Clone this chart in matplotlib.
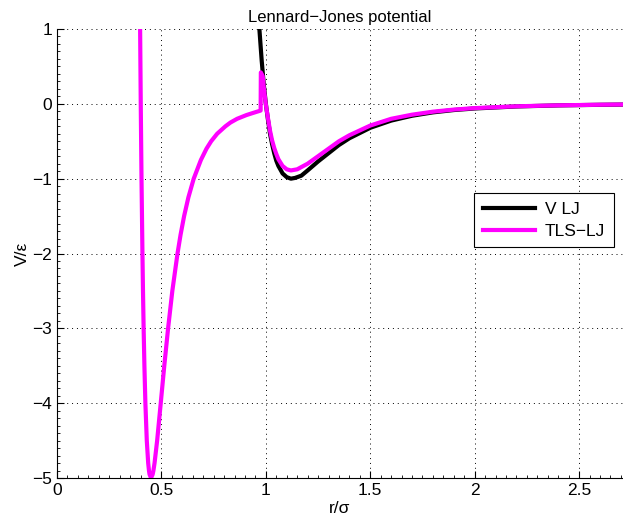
import matplotlib
matplotlib.use("Agg")
import matplotlib.pyplot as plt
from matplotlib.ticker import MultipleLocator

plt.rcParams['font.family'] = ['Liberation Sans', 'DejaVu Sans']

# V LJ (black)
lj_r = [0.969, 0.975, 0.98, 0.99, 1.00, 1.01, 1.02, 1.03, 1.04, 1.05, 1.06, 1.08,
        1.10, 1.12, 1.14, 1.17, 1.20, 1.25, 1.30, 1.35, 1.40, 1.50, 1.60, 1.70,
        1.80, 1.90, 2.00, 2.20, 2.40, 2.60, 2.71]
lj_v = [1.00, 0.77, 0.58, 0.26, 0.00, -0.21, -0.40, -0.54, -0.66, -0.76, -0.83, -0.93,
        -0.98, -1.00, -0.99, -0.96, -0.89, -0.77, -0.66, -0.55, -0.46, -0.32, -0.224, -0.159,
        -0.114, -0.083, -0.062, -0.035, -0.021, -0.013, -0.010]

# TLS-LJ (magenta)
tls_r = [0.398, 0.401, 0.4046, 0.4091, 0.4117, 0.4148, 0.4185, 0.4232, 0.4299,
         0.4366, 0.4403, 0.443, 0.4501, 0.4581, 0.4617, 0.4671, 0.4795, 0.4967,
         0.5137, 0.5319, 0.5522, 0.5770, 0.5916, 0.6086, 0.6291, 0.6546, 0.689,
         0.7156, 0.7381, 0.7667, 0.8065, 0.8304, 0.8624, 0.9072, 0.9406, 0.975,
         0.976, 0.985, 0.99, 1.00, 1.01, 1.02, 1.03, 1.04, 1.05, 1.06, 1.08,
         1.10, 1.12, 1.15, 1.20, 1.25, 1.30, 1.35, 1.40, 1.50, 1.60, 1.70, 1.80,
         1.90, 2.00, 2.20, 2.40, 2.60, 2.71]
tls_v = [1.00, 0.00, -1.00, -2.00, -2.50, -3.00, -3.50, -4.00, -4.50,
         -4.80, -4.90, -4.95, -5.00, -4.95, -4.90, -4.80, -4.50, -4.00,
         -3.50, -3.00, -2.50, -2.00, -1.75, -1.50, -1.25, -1.00, -0.75,
         -0.60, -0.50, -0.40, -0.30, -0.25, -0.20, -0.15, -0.12, -0.09,
         0.42, 0.37, 0.22, -0.01, -0.19, -0.36, -0.49, -0.59, -0.67, -0.74, -0.83,
         -0.875, -0.89, -0.875, -0.80, -0.70, -0.60, -0.50, -0.42, -0.29, -0.20, -0.145, -0.105,
         -0.077, -0.057, -0.033, -0.020, -0.012, -0.009]

fig = plt.figure(figsize=(6.23, 5.27), dpi=100)
ax = fig.add_axes([57 / 623, 49 / 527, 566 / 623, 449 / 527])

ax.plot(lj_r, lj_v, color='black', linewidth=3, label='V LJ')
ax.plot(tls_r, tls_v, color='#ff00ff', linewidth=3, label='TLS\u2212LJ')

ax.set_xlim(0, 2.71)
ax.set_ylim(-5, 1)
ax.xaxis.set_minor_locator(MultipleLocator(0.05))
ax.yaxis.set_minor_locator(MultipleLocator(0.1))
ax.set_yticks(range(-5, 2))
ax.set_yticklabels(['\u22125', '\u22124', '\u22123', '\u22122', '\u22121', '0', '1'])
ax.set_xticks([0, 0.5, 1, 1.5, 2, 2.5])
ax.set_xticklabels(['0', '0.5', '1', '1.5', '2', '2.5'])
ax.tick_params(which='both', direction='in', labelsize=12.5)
ax.tick_params(which='major', length=5)
ax.tick_params(which='minor', length=2.5)
ax.grid(True, which='major', linestyle=(0, (1, 4)), color='black', linewidth=0.7)
ax.spines['top'].set_visible(False)
ax.spines['right'].set_visible(False)

ax.set_title('Lennard\u2212Jones potential', fontsize=12, pad=5)
ax.set_xlabel('r/\u03c3', fontsize=12.5, labelpad=2)
ax.set_ylabel('V/\u03b5', fontsize=12.5, labelpad=2)

leg = ax.legend(loc='upper right', bbox_to_anchor=(0.984, 0.635), fontsize=12.5,
                handlelength=3.0, handletextpad=0.6, fancybox=False, edgecolor='black',
                framealpha=1, borderaxespad=0, borderpad=0.5, labelspacing=0.4)
leg.get_frame().set_linewidth(0.8)

fig.savefig('out.png', dpi=100)
